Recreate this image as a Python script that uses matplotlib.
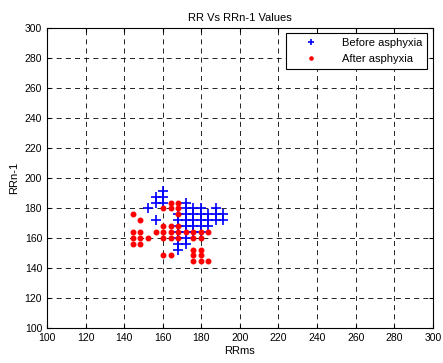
import matplotlib
matplotlib.use("Agg")
import matplotlib.pyplot as plt

plt.rcParams['font.family'] = ['Liberation Sans', 'DejaVu Sans']

# RR interval pairs (ms), before asphyxia
before_rr = [160.2, 160.2, 156.3, 156.3, 160.2, 152.3, 156.3, 171.9,
             171.9, 175.8, 179.7, 187.5,
             168.0, 171.9, 175.8, 179.7, 183.6, 187.5, 191.4,
             168.0, 171.9, 175.8, 179.7, 183.6, 187.5, 191.4,
             168.0, 171.9, 175.8, 179.7, 183.6,
             168.0, 171.9, 175.8, 179.7,
             168.0, 171.9,
             168.0, 171.9,
             168.0]
before_rrn1 = [191.4, 187.5, 187.5, 183.6, 183.6, 179.7, 171.9, 183.6,
               179.7, 179.7, 179.7, 179.7,
               175.8, 175.8, 175.8, 175.8, 175.8, 175.8, 175.8,
               171.9, 171.9, 171.9, 171.9, 171.9, 171.9, 171.9,
               168.0, 168.0, 168.0, 168.0, 168.0,
               164.1, 164.1, 164.1, 164.1,
               160.2, 160.2,
               156.3, 156.3,
               152.3]

# RR interval pairs (ms), after asphyxia
after_rr = [144.5, 148.4,
            164.1, 168.0,
            160.2, 164.1, 168.0,
            168.0,
            160.2, 164.1, 168.0,
            144.5, 148.4, 156.3, 160.2, 164.1, 168.0, 171.9, 175.8, 179.7, 183.6,
            144.5, 148.4, 152.3, 160.2, 164.1, 168.0, 175.8, 179.7,
            144.5, 148.4,
            175.8, 179.7,
            160.2, 164.1, 175.8, 179.7,
            175.8, 179.7, 183.6]
after_rrn1 = [175.8, 171.9,
              183.6, 183.6,
              179.7, 179.7, 179.7,
              175.8,
              168.0, 168.0, 168.0,
              164.1, 164.1, 164.1, 164.1, 164.1, 164.1, 164.1, 164.1, 164.1, 164.1,
              160.2, 160.2, 160.2, 160.2, 160.2, 160.2, 160.2, 160.2,
              156.3, 156.3,
              152.3, 152.3,
              148.4, 148.4, 148.4, 148.4,
              144.5, 144.5, 144.5]

ticks = list(range(100, 301, 20))

fig = plt.figure(figsize=(4.43, 3.63), dpi=100)
ax = fig.add_axes([0.106, 0.0964, 0.871, 0.827])

ax.plot(before_rr, before_rrn1, '+', color='blue', markersize=7, mew=1.2,
        label='Before asphyxia', zorder=3)
ax.plot(after_rr, after_rrn1, '.', color='red', markersize=6.5,
        label='After asphyxia', zorder=4)

ax.set_xlim(100, 300)
ax.set_ylim(100, 300)
ax.set_xticks(ticks)
ax.set_yticks(ticks)
ax.tick_params(direction='in', labelsize=7.5, length=3, top=True, right=True)
ax.grid(True, color='black', linestyle=(0, (6, 5)), linewidth=0.6)

ax.set_title('RR Vs RRn-1 Values', fontsize=8, pad=5)
ax.set_xlabel('RRms', fontsize=8, labelpad=2)
ax.set_ylabel('RRn-1', fontsize=8, labelpad=4)

leg = ax.legend(loc='upper right', fontsize=8, fancybox=False, framealpha=1,
                edgecolor='black', borderaxespad=0.5, handlelength=3.6,
                handletextpad=1.0, numpoints=1, markerscale=0.7,
                borderpad=0.45)
leg.get_frame().set_linewidth(0.8)

fig.savefig('out.png', dpi=100)
